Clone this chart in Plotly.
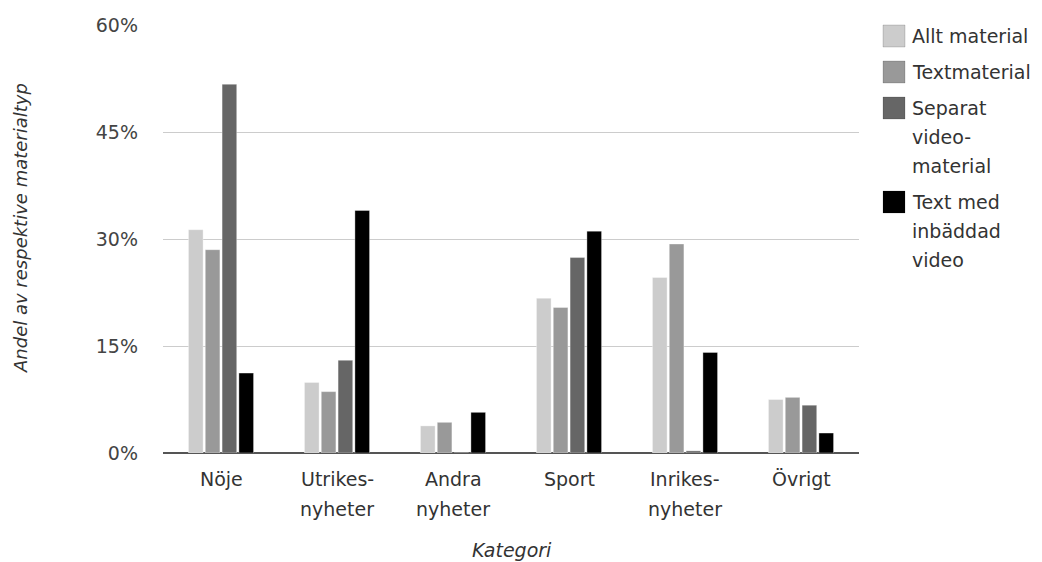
import plotly.graph_objects as go

# Share of each material type per news category (percent)
categories = ["Nöje", "Utrikes-\nnyheter", "Andra\nnyheter", "Sport", "Inrikes-\nnyheter", "Övrigt"]
series_names = ["Allt material", "Textmaterial", "Separat\nvideo-\nmaterial", "Text med\ninbäddad\nvideo"]
allt_material = [31.3, 9.9, 3.8, 21.7, 24.6, 7.5]
textmaterial = [28.5, 8.6, 4.3, 20.4, 29.3, 7.8]
separat_video = [51.7, 13.0, 0.0, 27.4, 0.3, 6.7]
text_med_video = [11.2, 34.0, 5.7, 31.1, 14.1, 2.8]
y_ticks = [0, 15, 30, 45, 60]
y_tick_labels = ["0%", "15%", "30%", "45%", "60%"]

series_values = [allt_material, textmaterial, separat_video, text_med_video]
colors = ["#cccccc", "#999999", "#666666", "#000000"]

FONT = "DejaVu Sans, sans-serif"
FS = 19
TEXT_COL = "#333333"
W, H = 1042, 562
M_L, M_R, M_T, M_B = 163, 183, 25, 109
PW, PH = W - M_L - M_R, H - M_T - M_B


def px_x(x):
    return (x - M_L) / PW


def px_y(y):
    return (H - M_B - y) / PH


fig = go.Figure()
for name, vals, col in zip(series_names, series_values, colors):
    fig.add_trace(go.Bar(
        x=categories, y=vals, name=name.replace("\n", " "),
        marker=dict(color=col, line=dict(color="rgba(255,255,255,0.35)", width=1)),
        showlegend=False,
    ))

annotations = []
# Category labels, one annotation per text line
for cat in categories:
    for i, line in enumerate(cat.split("\n")):
        annotations.append(dict(
            x=cat, xref="x", y=0, yref="paper", text=line, showarrow=False,
            xanchor="center", yanchor="middle", yshift=-(26 + 30 * i),
            font=dict(family=FONT, size=FS, color=TEXT_COL),
        ))

# Axis titles
annotations.append(dict(
    x=px_x(512), y=px_y(550), xref="paper", yref="paper", text="<i>Kategori</i>",
    showarrow=False, xanchor="center", yanchor="middle",
    font=dict(family=FONT, size=FS, color=TEXT_COL),
))
annotations.append(dict(
    x=px_x(20), y=px_y(228), xref="paper", yref="paper",
    text="<i>Andel av respektive materialtyp</i>", textangle=-90,
    showarrow=False, xanchor="center", yanchor="middle",
    font=dict(family=FONT, size=FS - 1, color=TEXT_COL),
))

# Legend: swatch plus wrapped name
shapes = []
item_y = 36
for name, col in zip(series_names, colors):
    shapes.append(dict(
        type="rect", xref="paper", yref="paper",
        x0=px_x(883), x1=px_x(905), y0=px_y(item_y - 11), y1=px_y(item_y + 11),
        fillcolor=col, line=dict(color="rgba(0,0,0,0.15)", width=1),
    ))
    lines = name.split("\n")
    for i, line in enumerate(lines):
        annotations.append(dict(
            x=px_x(910), y=px_y(item_y + 29 * i), xref="paper", yref="paper",
            text=line, showarrow=False, xanchor="left", yanchor="middle",
            font=dict(family=FONT, size=FS, color=TEXT_COL),
        ))
    item_y += 29 * (len(lines) - 1) + 36

fig.update_layout(
    width=W, height=H,
    margin=dict(l=M_L, r=M_R, t=M_T, b=M_B),
    paper_bgcolor="white", plot_bgcolor="white",
    barmode="group", bargap=0.42, bargroupgap=0.13,
    font=dict(family=FONT, size=FS, color="#444444"),
    xaxis=dict(showticklabels=False, showgrid=False, zeroline=False, ticks=""),
    yaxis=dict(
        range=[0, 60], tickvals=y_ticks, ticktext=y_tick_labels,
        showgrid=True, gridcolor="#cccccc", gridwidth=1,
        zeroline=True, zerolinecolor="#555555", zerolinewidth=2,
        ticks="", ticklabelstandoff=24,
        tickfont=dict(family=FONT, size=FS, color="#444444"),
    ),
    annotations=annotations, shapes=shapes,
)

fig.write_html("out.html")
